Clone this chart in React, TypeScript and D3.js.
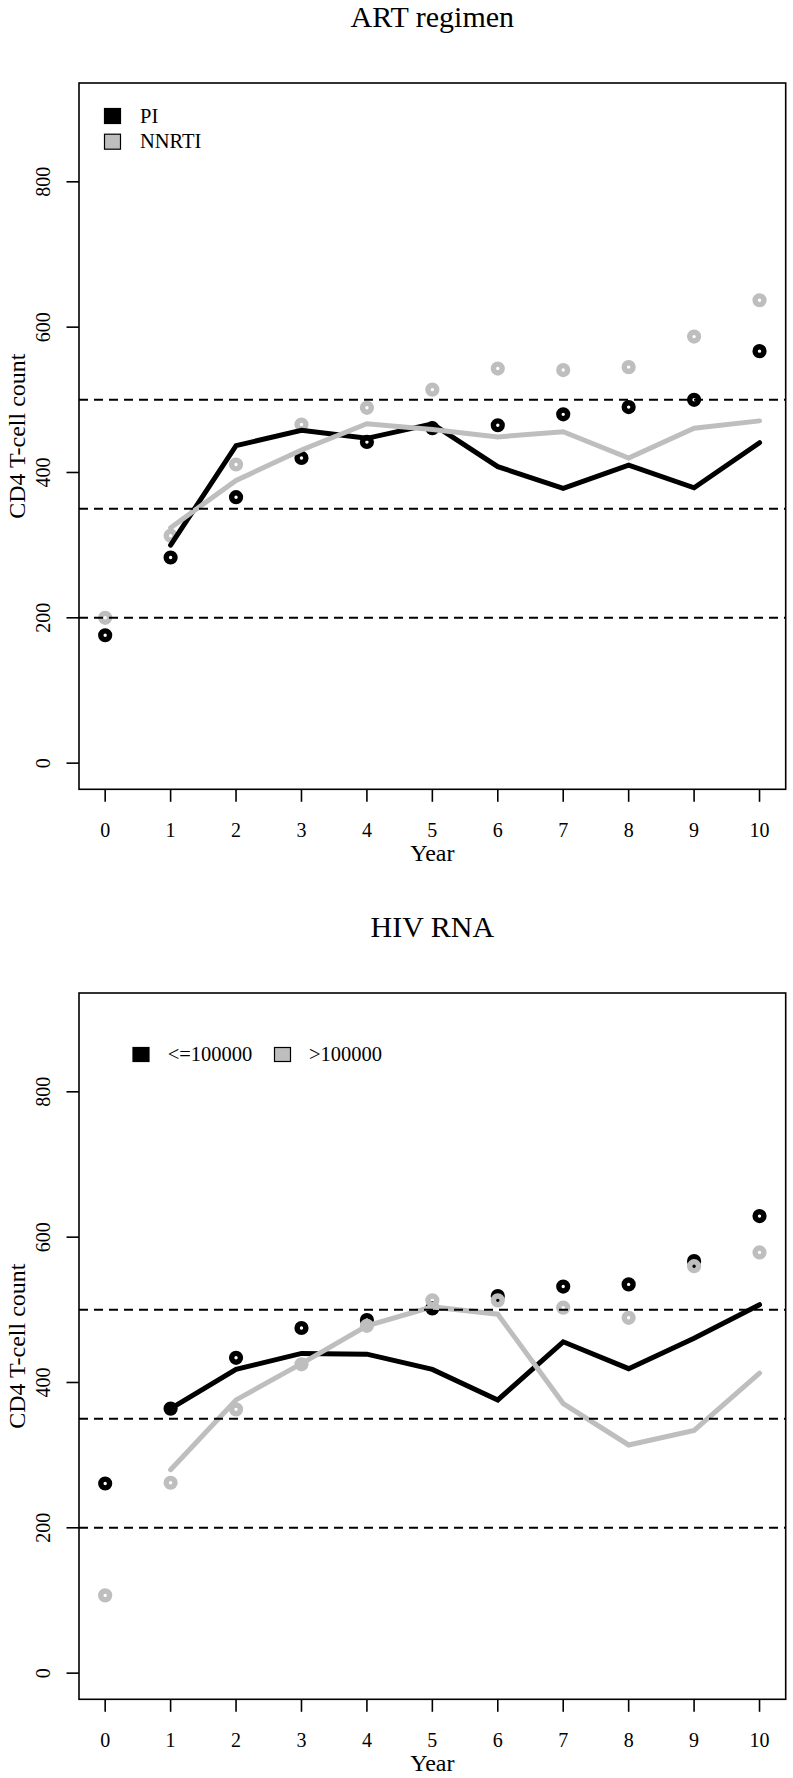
import React from "react";
import * as d3 from "d3";

const years = [0, 1, 2, 3, 4, 5, 6, 7, 8, 9, 10];
const lineYears = [1, 2, 3, 4, 5, 6, 7, 8, 9, 10];
const yTicks = [0, 200, 400, 600, 800];
const refLines = [200, 350, 500];

const artPIPoints = [176, 283, 366, 420, 442, 461, 465, 480, 490, 500, 567];
const artNNRTIPoints = [200, 313, 411, 466, 489, 514, 543, 541, 545, 587, 637];
const artPILine = [300, 437, 458, 447, 467, 408, 378, 410, 379, 441];
const artNNRTILine = [324, 389, 431, 467, 459, 449, 456, 420, 461, 471];

const hivLowPoints = [261, 364, 434, 475, 486, 502, 519, 532, 535, 567, 629];
const hivHighPoints = [107, 262, 363, 425, 478, 513, 513, 503, 489, 560, 579];
const hivLowLine = [364, 418, 440, 439, 418, 376, 456, 419, 461, 507];
const hivHighLine = [280, 376, 426, 478, 504, 494, 371, 314, 334, 413];

const BLACK = "#000000";
const GREY = "#bebebe";
const FONT = "'Liberation Serif', 'Times New Roman', serif";

const LEFT = 79;
const RIGHT = 785.7;
const TOP = 83;
const BOTTOM = 789.3;

const x = d3.scaleLinear().domain([-0.4, 10.4]).range([LEFT, RIGHT]);
const y = d3.scaleLinear().domain([-36, 936]).range([BOTTOM, TOP]);

type PanelProps = {
  offset: number;
  title: string;
  blackPts: number[];
  greyPts: number[];
  blackLine: number[];
  greyLine: number[];
  legend: "vertical" | "horizontal";
  labels: string[];
};

function Panel({ offset, title, blackPts, greyPts, blackLine, greyLine, legend, labels }: PanelProps) {
  const line = d3
    .line<number>()
    .x((_, i) => x(lineYears[i]))
    .y((d) => y(d));
  const cx = (LEFT + RIGHT) / 2;
  const cy = (TOP + BOTTOM) / 2;
  return (
    <g transform={`translate(0,${offset})`} fontFamily={FONT}>
      <text x={cx} y={27.3} textAnchor="middle" fontSize={30}>
        {title}
      </text>
      {/* points */}
      {blackPts.map((v, i) => (
        <circle key={"b" + i} cx={x(years[i])} cy={y(v)} r={4.4} fill="none" stroke={BLACK} strokeWidth={5.4} />
      ))}
      {greyPts.map((v, i) => (
        <circle key={"g" + i} cx={x(years[i])} cy={y(v)} r={4.4} fill="none" stroke={GREY} strokeWidth={5.4} />
      ))}
      <path d={line(blackLine) || ""} fill="none" stroke={BLACK} strokeWidth={5} strokeLinejoin="miter" strokeLinecap="round" />
      <path d={line(greyLine) || ""} fill="none" stroke={GREY} strokeWidth={5} strokeLinejoin="miter" strokeLinecap="round" />
      {refLines.map((v) => (
        <line key={v} x1={LEFT} x2={RIGHT} y1={y(v)} y2={y(v)} stroke={BLACK} strokeWidth={2} strokeDasharray="9,6" />
      ))}
      {/* box */}
      <rect x={LEFT} y={TOP} width={RIGHT - LEFT} height={BOTTOM - TOP} fill="none" stroke={BLACK} strokeWidth={1.6} />
      {/* x axis */}
      {years.map((t) => (
        <g key={"xt" + t}>
          <line x1={x(t)} x2={x(t)} y1={BOTTOM} y2={BOTTOM + 12.5} stroke={BLACK} strokeWidth={1.6} />
          <text x={x(t)} y={836.5} textAnchor="middle" fontSize={20}>
            {t}
          </text>
        </g>
      ))}
      <text x={cx} y={861} textAnchor="middle" fontSize={24}>
        Year
      </text>
      {/* y axis */}
      {yTicks.map((t) => (
        <g key={"yt" + t}>
          <line x1={LEFT - 12.5} x2={LEFT} y1={y(t)} y2={y(t)} stroke={BLACK} strokeWidth={1.6} />
          <text transform={`translate(50,${y(t)}) rotate(-90)`} textAnchor="middle" fontSize={20}>
            {t}
          </text>
        </g>
      ))}
      <text transform={`translate(25,${cy}) rotate(-90)`} textAnchor="middle" fontSize={24}>
        CD4 T-cell count
      </text>
      {/* legend */}
      {legend === "vertical" ? (
        <g>
          <rect x={104.5} y={108.5} width={16} height={15} fill={BLACK} stroke={BLACK} strokeWidth={1.2} />
          <text x={140} y={122.7} fontSize={20.5}>
            {labels[0]}
          </text>
          <rect x={104.5} y={134.2} width={16} height={15} fill={GREY} stroke={BLACK} strokeWidth={1.2} />
          <text x={140} y={148.3} fontSize={20.5}>
            {labels[1]}
          </text>
        </g>
      ) : (
        <g>
          <rect x={133} y={137.5} width={16} height={14} fill={BLACK} stroke={BLACK} strokeWidth={1.2} />
          <text x={167.7} y={150.7} fontSize={20.5}>
            {labels[0]}
          </text>
          <rect x={274.5} y={137.5} width={16} height={14} fill={GREY} stroke={BLACK} strokeWidth={1.2} />
          <text x={309} y={150.7} fontSize={20.5}>
            {labels[1]}
          </text>
        </g>
      )}
    </g>
  );
}

export default function App() {
  return (
    <svg
      width={793}
      height={1778}
      style={{ position: "absolute", left: 0, top: 0, background: "#fff" }}
    >
      <rect x={0} y={0} width={793} height={1778} fill="#fff" />
      <Panel
        offset={0}
        title="ART regimen"
        blackPts={artPIPoints}
        greyPts={artNNRTIPoints}
        blackLine={artPILine}
        greyLine={artNNRTILine}
        legend="vertical"
        labels={["PI", "NNRTI"]}
      />
      <Panel
        offset={910}
        title="HIV RNA"
        blackPts={hivLowPoints}
        greyPts={hivHighPoints}
        blackLine={hivLowLine}
        greyLine={hivHighLine}
        legend="horizontal"
        labels={["<=100000", ">100000"]}
      />
    </svg>
  );
}
